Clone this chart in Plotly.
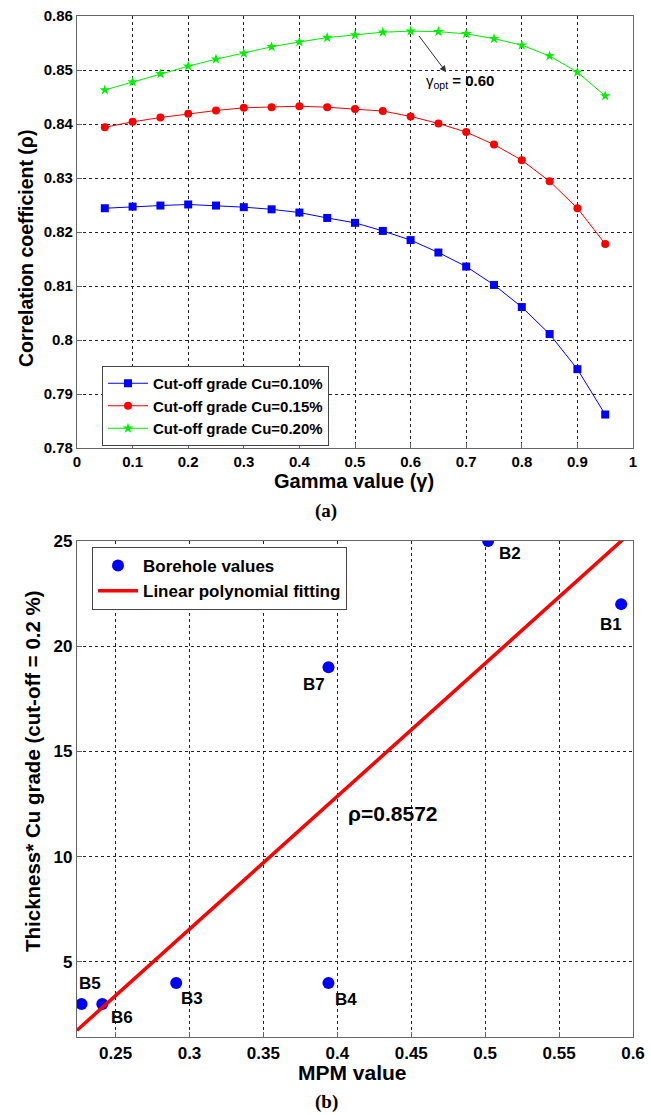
import plotly.graph_objects as go

# ---------------- data: panel (a) ----------------
gamma = [0.05, 0.10, 0.15, 0.20, 0.25, 0.30, 0.35, 0.40, 0.45, 0.50,
         0.55, 0.60, 0.65, 0.70, 0.75, 0.80, 0.85, 0.90, 0.95]
rho_cu010 = [0.8244, 0.8247, 0.8249, 0.8251, 0.8249, 0.8246, 0.8242, 0.8236, 0.8226, 0.8217,
             0.8202, 0.8185, 0.8162, 0.8136, 0.8102, 0.8061, 0.8011, 0.7946, 0.7862]
rho_cu015 = [0.8394, 0.8404, 0.8412, 0.8419, 0.8425, 0.8430, 0.8431, 0.8433, 0.8431, 0.8428,
             0.8424, 0.8414, 0.8401, 0.8385, 0.8362, 0.8333, 0.8294, 0.8244, 0.8178]
rho_cu020 = [0.8463, 0.8478, 0.8493, 0.8507, 0.8520, 0.8531, 0.8543, 0.8552, 0.8560, 0.8565,
             0.8570, 0.8572, 0.8571, 0.8567, 0.8558, 0.8546, 0.8526, 0.8496, 0.8452]
series_names = ["Cut-off grade Cu=0.10%", "Cut-off grade Cu=0.15%", "Cut-off grade Cu=0.20%"]
gamma_opt_label = "0.60"

# ---------------- data: panel (b) ----------------
boreholes = ["B1", "B2", "B3", "B4", "B5", "B6", "B7"]
mpm = [0.592, 0.502, 0.291, 0.394, 0.227, 0.241, 0.394]
thick_cu = [22, 25, 4, 4, 3, 3, 19]
fit_x = [0.2239, 0.600]
fit_y = [1.75, 25.5]
rho_label = "ρ=0.8572"

# ---------------- layout geometry ----------------
W, H = 651, 1115
def px(x): return x / W
def py(y): return 1 - y / H

FONT = "Liberation Sans, Arial, sans-serif"
SERIF = "Liberation Serif, Times New Roman, serif"

fig = go.Figure()

# panel (a)
styles = [
    dict(color="#0000ff", symbol="square", size=8),
    dict(color="#ff0000", symbol="circle", size=8),
    dict(color="#00ee00", symbol="star", size=8),
]
for yv, name, st in zip([rho_cu010, rho_cu015, rho_cu020], series_names, styles):
    fig.add_trace(go.Scatter(
        x=gamma, y=yv, mode="lines+markers", name=name,
        line=dict(color=st["color"], width=1),
        marker=dict(color=st["color"], symbol=st["symbol"], size=st["size"], line=dict(width=0)),
        xaxis="x", yaxis="y", legend="legend"))

# panel (b)
fig.add_trace(go.Scatter(
    x=mpm, y=thick_cu, mode="markers", name="Borehole values",
    marker=dict(color="#0000ff", size=12, line=dict(width=0)),
    xaxis="x2", yaxis="y2", legend="legend2"))
fig.add_trace(go.Scatter(
    x=fit_x, y=fit_y, mode="lines", name="Linear polynomial fitting",
    line=dict(color="#ff0000", width=3.5),
    xaxis="x2", yaxis="y2", legend="legend2"))

axis_common = dict(
    showgrid=True, gridcolor="#222222", griddash="dot", gridwidth=1,
    showline=True, linecolor="#666666", linewidth=1.2, mirror=True,
    ticks="inside", ticklen=5, tickcolor="#666666",
    zeroline=False, automargin=False,
)

fig.update_layout(
    width=W, height=H,
    margin=dict(l=0, r=0, t=0, b=0),
    paper_bgcolor="white", plot_bgcolor="white",
    font=dict(family=FONT, color="black"),
    xaxis=dict(domain=[px(77), px(633)], range=[0, 1], dtick=0.1, tick0=0,
               anchor="y", tickfont=dict(size=15, weight="bold"), **axis_common),
    yaxis=dict(domain=[py(448), py(16)], range=[0.78, 0.86], dtick=0.01, tick0=0.78,
               anchor="x", tickfont=dict(size=15, weight="bold"), **axis_common),
    xaxis2=dict(domain=[px(77), px(633)], range=[0.2239, 0.6], dtick=0.05, tick0=0,
                anchor="y2", tickfont=dict(size=17, weight="bold"), **axis_common),
    yaxis2=dict(domain=[py(1037), py(541)], range=[1.43, 25], dtick=5, tick0=0,
                anchor="x2", tickfont=dict(size=17, weight="bold"), **axis_common),
    legend=dict(x=px(102), y=py(366), xanchor="left", yanchor="top",
                bgcolor="white", bordercolor="#444444", borderwidth=1,
                font=dict(size=15, weight="bold"), itemwidth=40, tracegroupgap=0),
    legend2=dict(x=px(92), y=py(547), xanchor="left", yanchor="top",
                 bgcolor="white", bordercolor="#444444", borderwidth=1,
                 font=dict(size=17, weight="bold"), itemwidth=40),
    showlegend=True,
)

annotations = []
# axis titles
annotations.append(dict(text="<b>Gamma value (γ)</b>", x=px(354), y=py(481), xref="paper", yref="paper",
                        showarrow=False, font=dict(size=20), xanchor="center", yanchor="middle"))
annotations.append(dict(text="<b>Correlation coefficient (ρ)</b>", x=px(26), y=py(249), xref="paper", yref="paper",
                        showarrow=False, font=dict(size=19.5), textangle=-90, xanchor="center", yanchor="middle"))
annotations.append(dict(text="<b>(a)</b>", x=px(326), y=py(511), xref="paper", yref="paper",
                        showarrow=False, font=dict(size=19, family=SERIF), xanchor="center", yanchor="middle"))
annotations.append(dict(text="<b>MPM value</b>", x=px(353), y=py(1072), xref="paper", yref="paper",
                        showarrow=False, font=dict(size=21), xanchor="center", yanchor="middle"))
annotations.append(dict(text="<b>Thickness* Cu grade (cut-off = 0.2 %)</b>", x=px(32), y=py(771), xref="paper", yref="paper",
                        showarrow=False, font=dict(size=20.5), textangle=-90, xanchor="center", yanchor="middle"))
annotations.append(dict(text="<b>(b)</b>", x=px(326), y=py(1102), xref="paper", yref="paper",
                        showarrow=False, font=dict(size=19, family=SERIF), xanchor="center", yanchor="middle"))

# gamma_opt arrow and label (panel a)
opt_i = rho_cu020.index(max(rho_cu020))
annotations.append(dict(text="", x=0.664, y=0.8496, ax=gamma[opt_i] + 0.013, ay=rho_cu020[opt_i] - 0.0006,
                        xref="x", yref="y", axref="x", ayref="y",
                        showarrow=True, arrowhead=2, arrowsize=1.3, arrowwidth=1, arrowcolor="#333333"))
annotations.append(dict(text="γ<sub>opt</sub><b> = " + gamma_opt_label + "</b>", x=0.689, y=0.8478,
                        xref="x", yref="y", showarrow=False, font=dict(size=15), xanchor="center", yanchor="middle"))

# borehole labels (panel b), offsets in pixels
label_offsets = {"B1": (-10, -20), "B2": (22, -13), "B3": (16, -16), "B4": (18, -17),
                 "B5": (8, 20), "B6": (20, -14), "B7": (-14, -17)}
for name, xv, yv in zip(boreholes, mpm, thick_cu):
    dx, dy = label_offsets[name]
    annotations.append(dict(text="<b>" + name + "</b>", x=xv, y=yv, xref="x2", yref="y2",
                            xshift=dx, yshift=dy, showarrow=False, font=dict(size=17),
                            xanchor="center", yanchor="middle"))
annotations.append(dict(text="<b>" + rho_label + "</b>", x=0.4374, y=12.03, xref="x2", yref="y2",
                        showarrow=False, font=dict(size=21), xanchor="center", yanchor="middle"))

fig.update_layout(annotations=annotations)

fig.write_html("out.html")
